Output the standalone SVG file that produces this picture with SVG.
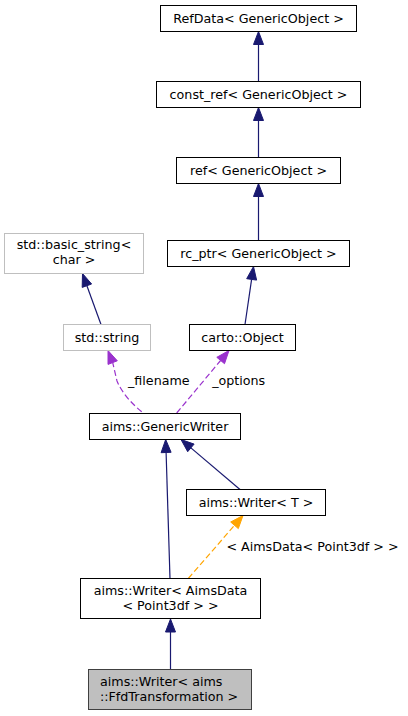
<svg xmlns="http://www.w3.org/2000/svg" width="408" height="716" viewBox="0 0 408 716">
<style>
  text { font-family: "DejaVu Sans", "Noto Sans", sans-serif; font-size: 12.7px; fill: #000; }
  .c { text-anchor: middle; }
  .box { fill: #fff; stroke: #000; stroke-width: 1; }
  .ext { fill: #fff; stroke: #bfbfbf; stroke-width: 1; }
  .cur { fill: #bfbfbf; stroke: #404040; stroke-width: 1; }
  .inh { fill: none; stroke: #191970; stroke-width: 1.2; }
  .inhh { fill: #191970; stroke: #191970; stroke-width: 1; }
  .use { fill: none; stroke: #9a32cd; stroke-width: 1.2; stroke-dasharray: 6,3; }
  .useh { fill: #9a32cd; stroke: #9a32cd; stroke-width: 1; }
  .tpl { fill: none; stroke: #ffa500; stroke-width: 1.2; stroke-dasharray: 6,3; }
  .tplh { fill: #ffa500; stroke: #ffa500; stroke-width: 1; }
</style>
<rect width="408" height="716" fill="#fff"/>
<g id="connectors">
  <path class="inh" d="M258.5,81.5 L258.5,44.5"/>
  <polygon class="inhh" points="258.5,31.5 263.5,44.5 253.5,44.5"/>
  <path class="inh" d="M258.5,157.5 L258.5,120.5"/>
  <polygon class="inhh" points="258.5,107.5 263.5,120.5 253.5,120.5"/>
  <path class="inh" d="M258.5,240.5 L258.5,196.5"/>
  <polygon class="inhh" points="258.5,183.5 263.5,196.5 253.5,196.5"/>
  <path class="inh" d="M245,324.5 L251.6,279.4"/>
  <polygon class="inhh" points="253.5,266.5 256.6,280.1 246.7,278.7"/>
  <path class="inh" d="M101,324.5 L86.9,285.7"/>
  <polygon class="inhh" points="82.5,273.5 91.6,284.0 82.2,287.4"/>
  <path class="use" d="M141.7,411.7 C132,404 122,393 117,381 L112.7,362.6"/>
  <polygon class="useh" points="108,350.5 117.3,360.8 108.0,364.4"/>
  <text x="158.8" y="384.5" class="c">_filename</text>
  <path class="use" d="M176.7,413 L220.6,360.5"/>
  <polygon class="useh" points="229,350.5 224.5,363.7 216.8,357.3"/>
  <text x="238.7" y="384.5" class="c">_options</text>
  <path class="inh" d="M170,578.5 L166.1,452.5"/>
  <polygon class="inhh" points="165.7,439.5 171.1,452.3 161.1,452.7"/>
  <path class="inh" d="M240,489.5 L190.9,447.9"/>
  <polygon class="inhh" points="181,439.5 194.1,444.1 187.7,451.7"/>
  <path class="tpl" d="M188.3,578.5 L234.5,525.3"/>
  <polygon class="tplh" points="243,515.5 238.3,528.6 230.7,522.0"/>
  <text x="312.5" y="550.5" class="c">&lt; AimsData&lt; Point3df &gt; &gt;</text>
  <path class="inh" d="M170.5,669.5 L170.5,632"/>
  <polygon class="inhh" points="170.5,619 175.5,632 165.5,632"/>
</g>
<g id="node_refdata">
  <rect class="box" x="160.5" y="5.5" width="196" height="26"/>
  <text x="258.5" y="22.5" class="c">RefData&lt; GenericObject &gt;</text>
</g>
<g id="node_constref">
  <rect class="box" x="156.5" y="81.5" width="204" height="26"/>
  <text x="258.5" y="98.5" class="c">const_ref&lt; GenericObject &gt;</text>
</g>
<g id="node_ref">
  <rect class="box" x="176.5" y="157.5" width="164" height="26"/>
  <text x="258.5" y="174.5" class="c">ref&lt; GenericObject &gt;</text>
</g>
<g id="node_rcptr">
  <rect class="box" x="167.5" y="240.5" width="182" height="26"/>
  <text x="258.5" y="257.5" class="c">rc_ptr&lt; GenericObject &gt;</text>
</g>
<g id="node_basic_string">
  <rect class="ext" x="4.5" y="233.5" width="139" height="40"/>
  <text x="74" y="249" class="c">std::basic_string&lt;</text>
  <text x="74" y="264" class="c">char &gt;</text>
</g>
<g id="node_string">
  <rect class="ext" x="63.5" y="324.5" width="87" height="26"/>
  <text x="107" y="341.5" class="c">std::string</text>
</g>
<g id="node_carto_object">
  <rect class="box" x="189.5" y="324.5" width="106" height="26"/>
  <text x="242.5" y="341.5" class="c">carto::Object</text>
</g>
<g id="node_genericwriter">
  <rect class="box" x="89.5" y="413.5" width="151" height="26"/>
  <text x="165" y="430.5" class="c">aims::GenericWriter</text>
</g>
<g id="node_writer_t">
  <rect class="box" x="186.5" y="489.5" width="139" height="26"/>
  <text x="256" y="506.5" class="c">aims::Writer&lt; T &gt;</text>
</g>
<g id="node_writer_aimsdata">
  <rect class="box" x="80.5" y="578.5" width="180" height="40"/>
  <text x="170.5" y="594.5" class="c">aims::Writer&lt; AimsData</text>
  <text x="170.5" y="609.5" class="c">&lt; Point3df &gt; &gt;</text>
</g>
<g id="node_writer_ffd">
  <rect class="cur" x="88.5" y="669.5" width="163" height="40"/>
  <text x="100" y="686">aims::Writer&lt; aims</text>
  <text x="100" y="701">::FfdTransformation &gt;</text>
</g>
</svg>
